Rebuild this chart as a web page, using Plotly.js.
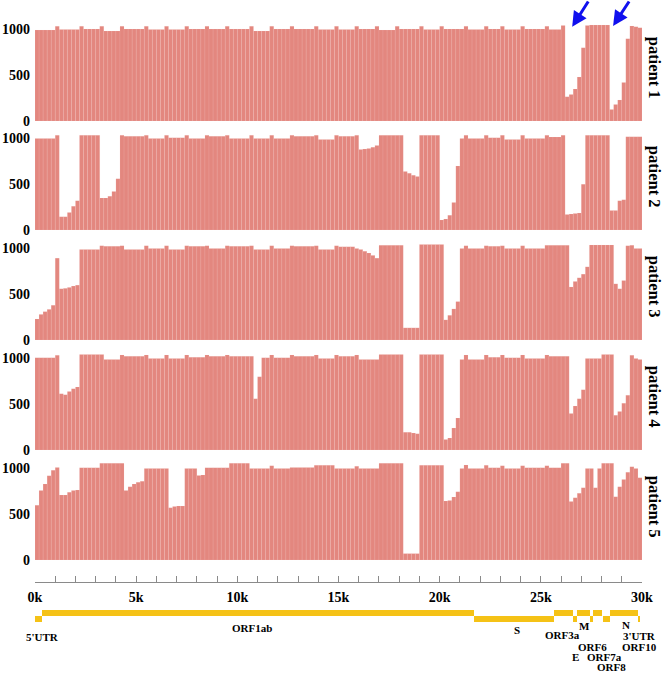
<!DOCTYPE html>
<html>
<head>
<meta charset="utf-8">
<script src="https://cdn.plot.ly/plotly-3.0.1.min.js"></script>
<style>html,body{margin:0;padding:0;background:#fff;}#chart{width:669px;height:673px;}</style>
</head>
<body>
<div id="chart"></div>
<script>
// ---------- DATA ----------
const binSize = 200; // bp per coverage bin
const patientNames = ["patient 1","patient 2","patient 3","patient 4","patient 5"];

const patient1 = [
 995,995,995,995,995,1035,1000,1000,1000,1000,
 1000,1035,1005,1005,1005,1005,1035,985,985,985,
 985,1035,1005,1005,1005,1005,1005,1035,1000,1000,
 1000,1000,1035,1000,1000,1000,1000,1035,1005,1005,
 1005,1005,1035,1005,1005,1005,1005,1035,1005,1005,
 1005,1005,1005,1035,985,985,985,985,1035,1005,
 1005,1005,1005,1035,1005,1005,1005,1005,1005,1035,
 1000,1000,1000,1000,1035,1000,1000,1000,1000,1035,
 1005,1005,1005,1005,1035,995,995,995,995,1035,
 1005,1005,1005,1005,1005,1035,1000,1000,1000,1000,
 1035,1005,1005,1005,1005,1005,1035,1000,1000,1000,
 1000,1035,1005,1005,1005,1035,1000,1000,1000,1000,
 1035,1005,1005,1005,1005,1005,1035,1000,1000,1000,
 1045,265,290,350,480,800,1045,1050,1050,1050,
 1050,1050,125,180,230,420,900,1040,1030,1020
];
const patient2 = [
 1000,1000,1000,1000,1000,1035,145,145,190,260,
 320,1035,1035,1035,1035,1035,350,350,370,420,
 560,1035,1025,1025,1025,1025,1025,1035,1000,1000,
 1000,1000,1035,1010,1010,1010,1010,1035,1000,1000,
 1000,1000,1035,1025,1025,1025,1025,1035,1000,1000,
 1000,1000,1000,1035,1000,1000,1000,1000,1035,1000,
 1000,1000,1000,1035,1025,1025,1025,1025,1025,1035,
 990,990,990,990,1035,1025,1025,1025,1025,1035,
 880,885,890,905,925,1035,1035,1035,1035,1035,
 1035,640,620,600,585,1035,1035,1035,1035,1035,
 110,120,160,300,700,1000,1035,1000,1000,1000,
 1000,1035,1010,1010,1010,1035,990,990,990,990,
 1035,1000,1000,1000,1000,1000,1035,1017,1017,1017,
 1035,170,175,180,185,500,1035,1035,1035,1035,
 1035,1035,214,214,320,330,1020,1020,1020,1020
];
const patient3 = [
 230,280,310,335,380,895,560,565,575,590,
 600,990,990,990,990,990,1030,1025,1025,1025,
 1025,1030,990,990,990,990,990,1030,1000,1000,
 1000,1000,1030,990,990,990,990,1030,1025,1025,
 1025,1025,1030,1000,1000,1000,1000,1030,1025,1025,
 1025,1025,1025,1030,990,990,990,990,1030,1000,
 1000,1000,1000,1030,1025,1025,1025,1025,1025,1030,
 990,990,990,990,1030,1020,1020,1020,1020,1000,
 990,970,950,925,895,1035,1035,1035,1035,1035,
 1035,133,133,133,133,1045,1045,1045,1045,1045,
 1045,220,270,340,420,1000,1030,1000,1000,1000,
 1000,1030,1025,1025,1025,1030,1000,1000,1000,1000,
 1030,1000,1000,1000,1000,1000,1035,1035,1035,1035,
 1035,1035,580,640,680,720,800,1040,1040,1040,
 1040,1040,1040,614,560,650,1030,1035,1000,1000
];
const patient4 = [
 1010,1010,1010,1010,1010,1035,615,605,640,670,
 690,1045,1045,1045,1045,1045,1045,990,990,990,
 990,1040,1025,1025,1025,1025,1025,1040,1000,1000,
 1000,1000,1040,1000,1000,1000,1000,1040,1015,1015,
 1015,1015,1040,1025,1025,1025,1025,1040,1025,1025,
 1025,1025,1025,1025,560,800,1010,1010,1040,1010,
 1010,1010,1010,1040,1025,1025,1025,1025,1025,1040,
 1000,1000,1000,1000,1040,1025,1025,1025,1025,1040,
 990,990,990,990,990,1045,1045,1045,1045,1045,
 1045,195,195,185,178,1045,1045,1045,1045,1045,
 1045,115,130,240,350,990,1040,990,990,990,
 990,1040,1015,1015,1015,1040,1010,1010,1010,1010,
 1040,1000,1000,1000,1000,1000,1040,1025,1025,1025,
 1025,1025,400,480,560,660,1000,1000,1000,1000,
 1045,1045,1045,380,420,510,600,1035,1000,990
];
const patient5 = [
 600,760,830,920,980,1012,710,710,740,760,
 765,1010,1010,1010,1010,1010,1058,1058,1058,1058,
 1058,1058,760,800,830,850,860,1000,1000,1000,
 1000,1000,1000,570,585,590,590,1000,1000,1000,
 925,930,1010,1010,1010,1010,1010,1010,1058,1058,
 1058,1058,1058,1000,1000,1000,1000,1000,1030,1000,
 1000,1000,1000,1012,1012,1012,1012,1012,1012,1037,
 1037,1037,1037,1037,1000,1000,1000,1000,1000,1025,
 1000,1000,1000,1000,1000,1058,1058,1058,1058,1058,
 1058,70,70,70,70,1037,1037,1037,1037,1037,
 1037,646,650,690,745,1000,1040,1000,1000,1000,
 1000,1035,1010,1010,1010,1030,1000,1000,1000,1000,
 1030,1010,1010,1010,1010,1010,1030,1010,1010,1010,
 1058,1058,640,680,730,790,1000,1000,790,1000,
 1058,1058,1058,692,800,880,960,1020,1000,900
];
const coverage = [patient1, patient2, patient3, patient4, patient5];

const yTickVals = [0, 500, 1000];
const xTickVals = [0, 5000, 10000, 15000, 20000, 25000, 30000];
const xTickText = ["0k","5k","10k","15k","20k","25k","30k"];

const geneNames = ["5'UTR","ORF1ab","S","ORF3a","E","M","ORF6","ORF7a","ORF8","N","ORF10","3'UTR"];
const geneStart = [0, 330, 21700, 25650, 26610, 26780, 27430, 27600, 28090, 28420, 29820, 29860];
const geneEnd   = [330, 21700, 25650, 26610, 26780, 27430, 27600, 28010, 28420, 29820, 29860, 29900];
const geneRow   = [0, 1, 0, 1, 0, 1, 0, 1, 0, 1, 0, 0]; // 1 = upper row, 0 = lower row

// ---------- LAYOUT HELPERS ----------
const W = 669, H = 673;
const fy = py => 1 - py / H;
const fx = px => px / W;
const panelBottom = [121, 230, 340, 450, 560];
const panelH = 100.6;
const serif = "Liberation Serif, Times New Roman, serif";
const barColor = "#e3877f";
const geneColor = "#f5c216";

const binCenters = patient1.map((_, i) => i * binSize + binSize / 2);

const traces = coverage.map((vals, i) => ({
  type: "bar",
  x: binCenters,
  y: vals,
  width: binSize,
  xaxis: "x",
  yaxis: i === 0 ? "y" : "y" + (i + 1),
  marker: { color: barColor, line: { color: "rgba(255,225,220,0.25)", width: 0.4 } },
  hoverinfo: "skip",
  showlegend: false
}));

// gene track
traces.push({
  type: "bar",
  orientation: "h",
  base: geneStart,
  x: geneStart.map((s, i) => geneEnd[i] - s),
  y: geneRow.map(r => r + 0.5),
  width: 1,
  xaxis: "x",
  yaxis: "y6",
  marker: { color: geneColor, line: { width: 0 } },
  hoverinfo: "skip",
  showlegend: false
});

const layout = {
  width: W, height: H,
  margin: { l: 0, r: 0, t: 0, b: 0, pad: 0 },
  paper_bgcolor: "#fff", plot_bgcolor: "rgba(0,0,0,0)",
  bargap: 0,
  barmode: "overlay",
  font: { family: serif, color: "#000" },
  xaxis: {
    domain: [fx(35), fx(642)],
    range: [0, 30000],
    anchor: "free",
    position: fy(582),
    showline: true, linecolor: "#8a8a8a", linewidth: 1,
    showgrid: false, zeroline: false,
    ticks: "inside", ticklen: 6, tickcolor: "#8a8a8a", tickwidth: 1,
    tickvals: xTickVals, ticktext: xTickText,
    tickfont: { family: serif, size: 14, weight: "bold", color: "#000" },
    ticklabelstandoff: 2,
    minor: { dtick: 1000, tick0: 0, ticks: "inside", ticklen: 6, tickcolor: "#8a8a8a", tickwidth: 1, showgrid: false },
    fixedrange: true
  },
  annotations: [],
  showlegend: false
};

panelBottom.forEach((b, i) => {
  const key = i === 0 ? "yaxis" : "yaxis" + (i + 1);
  layout[key] = {
    domain: [fy(b), fy(b - panelH)],
    range: [0, 1100],
    anchor: "x",
    tickvals: yTickVals,
    ticktext: yTickVals.map(String),
    ticks: "",
    showgrid: false, zeroline: false, showline: false,
    tickfont: { family: serif, size: 14, weight: "bold", color: "#000" },
    ticklabelstandoff: 4,
    fixedrange: true
  };
  layout.annotations.push({
    xref: "paper", yref: "paper",
    x: fx(654), y: fy(b - panelH / 2 - 3),
    text: patientNames[i], textangle: 90, showarrow: false,
    xanchor: "center", yanchor: "middle",
    font: { family: serif, size: 16.5, weight: "bold", color: "#000" }
  });
});

layout.yaxis6 = {
  domain: [fy(622), fy(610)],
  range: [0, 2],
  anchor: "x",
  visible: false,
  fixedrange: true
};

// gene labels (placement only)
const geneLabelPos = {
  "5'UTR": [42, 637], "ORF1ab": [252, 628], "S": [517, 630], "ORF3a": [562, 635],
  "M": [584, 626], "N": [626, 625], "3'UTR": [639, 636], "ORF6": [592, 646.5],
  "ORF10": [639, 646.5], "E": [575, 657], "ORF7a": [604, 657], "ORF8": [611, 667]
};
geneNames.forEach(name => {
  const p = geneLabelPos[name];
  layout.annotations.push({
    xref: "paper", yref: "paper", x: fx(p[0]), y: fy(p[1]),
    text: name, showarrow: false, xanchor: "center", yanchor: "middle",
    borderpad: 0,
    font: { family: serif, size: 11, weight: "bold", color: "#000" }
  });
});

// blue arrows pointing at dropouts in patient 1
[[26550, 1030], [28570, 1040]].forEach(pt => {
  layout.annotations.push({
    xref: "x", yref: "y", x: pt[0], y: pt[1],
    text: "", showarrow: true, ax: 17, ay: -29,
    arrowhead: 2, arrowsize: 1, arrowwidth: 3, arrowcolor: "#1010ee", standoff: 0
  });
});

Plotly.newPlot("chart", traces, layout, { staticPlot: true, displayModeBar: false });
</script>
</body>
</html>
